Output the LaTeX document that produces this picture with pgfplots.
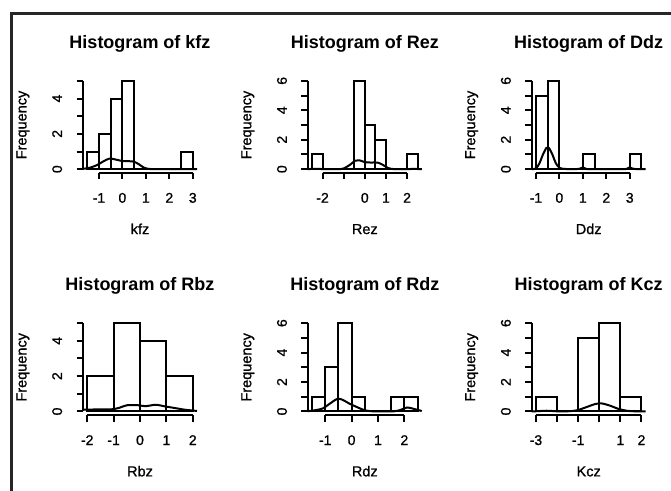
\documentclass[border=0pt]{standalone}
\usepackage{fontspec}
\setmainfont{Liberation Sans}
\newfontfamily\lab{Liberation Sans}[FakeBold=0.9]
\usepackage{pgfplots}
\pgfplotsset{compat=1.18}
\newcommand{\lw}{2pt}
\pgfplotsset{
  rhist/.style={
    scale only axis, width=114pt, height=95.4pt, clip=false,
    axis x line*=bottom, axis y line*=left, axis line style={draw=none},
    tick align=outside, major tick length=6.5pt,
    tick style={black, line width=\lw},
    minor tick num=0,
    ticklabel style={font=\lab\fontsize{14}{16}\selectfont},
    xticklabel style={anchor=base, inner sep=0pt},
    xticklabel shift=23.5pt,
    yticklabel style={rotate=90, anchor=base, inner sep=0pt},
    yticklabel shift=14.5pt,
    title style={font=\bfseries\fontsize{18}{20}\selectfont, at={(axis description cs:0.5,1.244)}, anchor=base},
    xlabel style={font=\lab\fontsize{14.5}{16}\selectfont, at={(axis description cs:0.5,-0.643)}, anchor=base},
    ylabel style={font=\lab\fontsize{14.5}{16}\selectfont, at={(axis description cs:-0.496,0.5)}, anchor=base},
    ylabel={Frequency},
  },
  hbar/.style={ybar interval, fill=white, draw=black, line width=\lw},
  dens/.style={smooth, black, line width=\lw, mark=none},
}
\begin{document}
\begin{tikzpicture}
\useasboundingbox (0pt,0pt) rectangle (671pt,-490pt);
\fill[white] (0pt,0pt) rectangle (671pt,-490pt);
\draw[line width=2.7pt, color=black!85] (11.5pt,-492pt) -- (11.5pt,-13.3pt) -- (673pt,-13.3pt);

% ---------- kfz ----------
\begin{axis}[rhist, at={(83pt,-172.7pt)}, anchor=south west,
  xmin=-1.68, xmax=3.18, ymin=-0.2, ymax=5.2,
  xtick={-1,0,1,2,3}, xticklabels={-1,0,1,2,3},
  ytick={0,1,2,3,4,5}, yticklabels={0,\mbox{},2,\mbox{},4,\mbox{}},
  title={Histogram of kfz}, xlabel={kfz}]
\addplot[hbar] coordinates {(-1.5,1) (-1,2) (-0.5,4) (0,5) (0.5,0) (1,0) (1.5,0) (2,0) (2.5,1) (3,0)};
\addplot[dens] coordinates {(-1.68,0.02) (-1.4,0.08) (-1.1,0.22) (-0.8,0.45) (-0.55,0.6) (-0.3,0.55) (0,0.46) (0.3,0.45) (0.5,0.42) (0.7,0.28) (0.9,0.1) (1.1,0.02) (1.4,0) (2.4,0) (3.18,0)};
\draw[line width=\lw] (axis cs:-1,-0.2) -- (axis cs:3,-0.2);
\draw[line width=\lw] (axis cs:-1.68,0) -- (axis cs:-1.68,5);
\end{axis}

% ---------- Rez ----------
\begin{axis}[rhist, at={(307.8pt,-172.7pt)}, anchor=south west,
  xmin=-2.7, xmax=2.7, ymin=-0.24, ymax=6.24,
  xtick={-2,-1,0,1,2}, xticklabels={-2,\mbox{},0,1,2},
  ytick={0,1,2,3,4,5,6}, yticklabels={0,\mbox{},2,\mbox{},4,\mbox{},6},
  title={Histogram of Rez}, xlabel={Rez}]
\addplot[hbar] coordinates {(-2.5,1) (-2,0) (-1.5,0) (-1,0) (-0.5,6) (0,3) (0.5,2) (1,0) (1.5,0) (2,1) (2.5,0)};
\addplot[dens] coordinates {(-2.7,0) (-2.5,0.02) (-2.2,0.02) (-1.9,0) (-1.3,0) (-1.0,0.05) (-0.7,0.3) (-0.45,0.58) (-0.25,0.6) (0,0.48) (0.3,0.45) (0.6,0.45) (0.85,0.3) (1.1,0.08) (1.4,0) (2.0,0) (2.3,0.02) (2.7,0)};
\draw[line width=\lw] (axis cs:-2,-0.24) -- (axis cs:2,-0.24);
\draw[line width=\lw] (axis cs:-2.7,0) -- (axis cs:-2.7,6);
\end{axis}

% ---------- Ddz ----------
\begin{axis}[rhist, at={(531.7pt,-172.7pt)}, anchor=south west,
  xmin=-1.18, xmax=3.68, ymin=-0.24, ymax=6.24,
  xtick={-1,0,1,2,3}, xticklabels={-1,0,1,2,3},
  ytick={0,1,2,3,4,5,6}, yticklabels={0,\mbox{},2,\mbox{},4,\mbox{},6},
  title={Histogram of Ddz}, xlabel={Ddz}]
\addplot[hbar] coordinates {(-1,5) (-0.5,6) (0,0) (0.5,0) (1,1) (1.5,0) (2,0) (2.5,0) (3,1) (3.5,0)};
\addplot[dens] coordinates {(-1.18,0) (-1,0.05) (-0.85,0.4) (-0.7,1.0) (-0.55,1.45) (-0.45,1.45) (-0.3,1.0) (-0.15,0.4) (0,0.1) (0.2,0.02) (0.7,0) (0.9,0.05) (1.0,0.12) (1.1,0.05) (1.3,0) (2.7,0) (2.9,0.05) (3.0,0.12) (3.1,0.05) (3.3,0) (3.68,0)};
\draw[line width=\lw] (axis cs:-1,-0.24) -- (axis cs:3,-0.24);
\draw[line width=\lw] (axis cs:-1.18,0) -- (axis cs:-1.18,6);
\end{axis}

% ---------- Rbz ----------
\begin{axis}[rhist, at={(83pt,-415pt)}, anchor=south west,
  xmin=-2.16, xmax=2.16, ymin=-0.2, ymax=5.2,
  xtick={-2,-1,0,1,2}, xticklabels={-2,-1,0,1,2},
  ytick={0,1,2,3,4,5}, yticklabels={0,\mbox{},2,\mbox{},4,\mbox{}},
  title={Histogram of Rbz}, xlabel={Rbz}]
\addplot[hbar] coordinates {(-2,2) (-1,5) (0,4) (1,2) (2,0)};
\addplot[dens] coordinates {(-2.16,0.1) (-1.5,0.12) (-1.0,0.13) (-0.8,0.2) (-0.5,0.35) (-0.1,0.36) (0.2,0.3) (0.6,0.38) (0.9,0.3) (1.3,0.2) (1.7,0.1) (2.16,0.03)};
\draw[line width=\lw] (axis cs:-2,-0.2) -- (axis cs:2,-0.2);
\draw[line width=\lw] (axis cs:-2.16,0) -- (axis cs:-2.16,5);
\end{axis}

% ---------- Rdz ----------
\begin{axis}[rhist, at={(307.8pt,-415pt)}, anchor=south west,
  xmin=-1.66, xmax=2.66, ymin=-0.24, ymax=6.24,
  xtick={-1,0,1,2}, xticklabels={-1,0,1,2},
  ytick={0,1,2,3,4,5,6}, yticklabels={0,\mbox{},2,\mbox{},4,\mbox{},6},
  title={Histogram of Rdz}, xlabel={Rdz}]
\addplot[hbar] coordinates {(-1.5,1) (-1,3) (-0.5,6) (0,1) (0.5,0) (1,0) (1.5,1) (2,1) (2.5,0)};
\addplot[dens] coordinates {(-1.66,0.02) (-1.4,0.08) (-1.1,0.2) (-0.85,0.5) (-0.55,0.85) (-0.35,0.8) (-0.1,0.55) (0.2,0.3) (0.5,0.08) (0.8,0.01) (1.2,0) (1.6,0.01) (1.85,0.1) (2.1,0.27) (2.35,0.18) (2.66,0.03)};
\draw[line width=\lw] (axis cs:-1,-0.24) -- (axis cs:2,-0.24);
\draw[line width=\lw] (axis cs:-1.66,0) -- (axis cs:-1.66,6);
\end{axis}

% ---------- Kcz ----------
\begin{axis}[rhist, at={(531.7pt,-415pt)}, anchor=south west,
  xmin=-3.2, xmax=2.2, ymin=-0.24, ymax=6.24,
  xtick={-3,-2,-1,0,1,2}, xticklabels={-3,\mbox{},-1,\mbox{},1,2},
  ytick={0,1,2,3,4,5,6}, yticklabels={0,\mbox{},2,\mbox{},4,\mbox{},6},
  title={Histogram of Kcz}, xlabel={Kcz}]
\addplot[hbar] coordinates {(-3,1) (-2,0) (-1,5) (0,6) (1,1) (2,0)};
\addplot[dens] coordinates {(-3.2,0) (-2.8,0.03) (-2.5,0.05) (-2.2,0.03) (-1.8,0) (-1.3,0.03) (-1.0,0.1) (-0.6,0.3) (-0.2,0.5) (0.1,0.55) (0.5,0.4) (0.9,0.18) (1.3,0.05) (1.7,0.01) (2.2,0)};
\draw[line width=\lw] (axis cs:-3,-0.24) -- (axis cs:2,-0.24);
\draw[line width=\lw] (axis cs:-3.2,0) -- (axis cs:-3.2,6);
\end{axis}
\end{tikzpicture}
\end{document}
